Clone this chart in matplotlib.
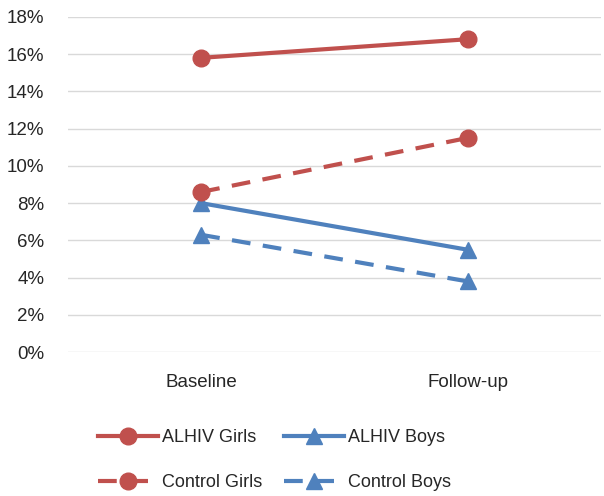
import matplotlib
matplotlib.use("Agg")
import matplotlib.pyplot as plt
from matplotlib.ticker import FuncFormatter

plt.rcParams['font.family'] = ['Liberation Sans', 'DejaVu Sans']

# data (percent)
categories = ["Baseline", "Follow-up"]
alhiv_girls = [15.8, 16.8]
control_girls = [8.6, 11.5]
alhiv_boys = [8.0, 5.5]
control_boys = [6.3, 3.8]

red = "#C0504D"
blue = "#4F81BD"

fig = plt.figure(figsize=(6.04, 4.96), dpi=100)
ax = fig.add_axes([0.1126, 0.290, 0.882, 0.676])

x = list(range(len(categories)))
l1, = ax.plot(x, alhiv_girls, color=red, lw=3, marker="o", ms=12, label="ALHIV Girls")
l2, = ax.plot(x, alhiv_boys, color=blue, lw=3, marker="^", ms=12, label="ALHIV Boys")
l3, = ax.plot(x, control_girls, color=red, lw=3, ls=(0, (4.5, 3)), marker="o", ms=12, label="Control Girls")
l4, = ax.plot(x, control_boys, color=blue, lw=3, ls=(0, (4.5, 3)), marker="^", ms=12, label="Control Boys")

ax.set_xlim(-0.5, 1.5)
ax.set_ylim(0, 18)
ax.set_yticks(range(0, 19, 2))
ax.yaxis.set_major_formatter(FuncFormatter(lambda v, p: f"{v:.0f}%"))
ax.set_xticks(x)
ax.set_xticklabels(categories)
ax.grid(axis="y", color="#D9D9D9", lw=1)
ax.set_axisbelow(True)
for s in ax.spines.values():
    s.set_visible(False)
ax.tick_params(axis="both", length=0, labelsize=13.5)
ax.tick_params(axis="y", pad=17)
ax.tick_params(axis="x", pad=16)
for t in ax.get_xticklabels() + ax.get_yticklabels():
    t.set_color("#262626")

fig.legend(handles=[l1, l3, l2, l4], ncol=2, loc="center",
           bbox_to_anchor=(0.455, 0.072), frameon=False, fontsize=13,
           handlelength=3.3, handletextpad=0.25, columnspacing=1.2,
           labelspacing=1.55, labelcolor="#262626")

fig.savefig("out.png", dpi=100)
